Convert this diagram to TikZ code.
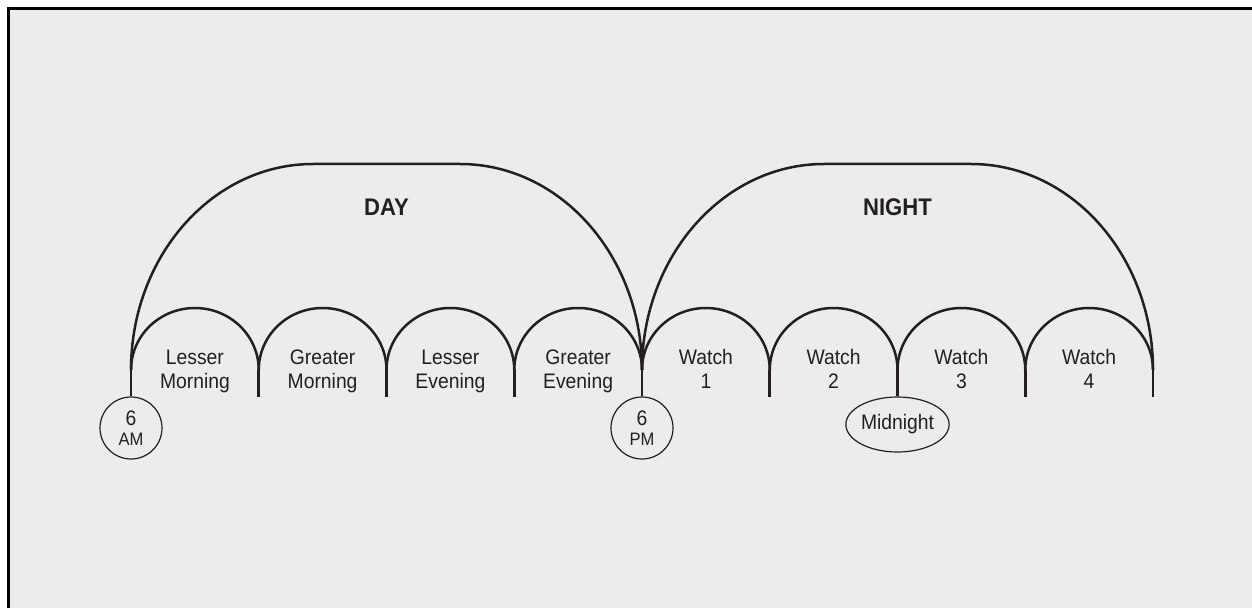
\documentclass[tikz,border=0pt]{standalone}
\usepackage{fontspec}
\setmainfont{Liberation Sans}[FakeStretch=0.92]
\usetikzlibrary{shapes.geometric}
\definecolor{paper}{HTML}{ECECEC}
\definecolor{ink}{HTML}{231F20}
\tikzset{
  arcline/.style={draw=ink, line width=2.5pt},
  stemline/.style={draw=ink, line width=2.6pt},
  period/.style={align=center, text=ink, font=\fontsize{21}{23.5}\selectfont},
  half/.style={text=ink, font=\bfseries\fontsize{24}{26}\selectfont},
  clock/.style={circle, draw=ink, line width=1.2pt, minimum size=62pt, inner sep=0pt,
    align=center, text=ink, font=\fontsize{21}{20}\selectfont},
  marker/.style={ellipse, draw=ink, line width=1.2pt, minimum width=96pt, minimum height=55pt,
    inner sep=0pt, text=ink, font=\fontsize{21}{23}\selectfont},
}
\begin{document}
\begin{tikzpicture}[x=1pt,y=1pt]
\useasboundingbox (0,0) rectangle (1252,608);
% frame and paper
\fill[white] (0,0) rectangle (1252,608);
\fill[paper] (8,0) rectangle (1252,599);
\draw[black, line width=3pt] (8,0) -- (8,599) -- (1252,599);

% boundaries between the eight periods
\foreach \i in {0,...,8} {
  \pgfmathsetmacro{\bx}{131+127.75*\i}
  \coordinate (b\i) at (\bx,238);
  \coordinate (s\i) at (\bx,211);
}

% day and night
\draw[arcline] (b0) arc[start angle=180, end angle=90, x radius=182, y radius=206]
  -- ++(147,0) arc[start angle=90, end angle=0, x radius=182, y radius=206];
\draw[arcline] (b4) arc[start angle=180, end angle=90, x radius=182, y radius=206]
  -- ++(147,0) arc[start angle=90, end angle=0, x radius=182, y radius=206];
\node[half] (day) at (386.5,401) {DAY};
\node[half] (night) at (897.5,401) {NIGHT};

% the eight periods
\foreach \i in {0,...,7} {
  \draw[arcline] (b\i) arc[start angle=180, end angle=0, x radius=63.875, y radius=62];
}
\node[period] (p1) at (194.9,236) {\strut Lesser\\\strut Morning};
\node[period] (p2) at (322.6,236) {\strut Greater\\\strut Morning};
\node[period] (p3) at (450.4,236) {\strut Lesser\\\strut Evening};
\node[period] (p4) at (578.1,236) {\strut Greater\\\strut Evening};
\node[period] (p5) at (705.9,236) {\strut Watch\\\strut 1};
\node[period] (p6) at (833.6,236) {\strut Watch\\\strut 2};
\node[period] (p7) at (961.4,236) {\strut Watch\\\strut 3};
\node[period] (p8) at (1089.1,236) {\strut Watch\\\strut 4};

% hour markers
\node[clock] (am) at (131,180) {6\\{\fontsize{18}{20}\selectfont AM}};
\node[clock] (pm) at (642,180) {6\\{\fontsize{18}{20}\selectfont PM}};
\node[marker] (mid) at (897.5,183.5) {Midnight};

% stems
\draw[stemline] (b0) -- (am.north);
\draw[stemline] (b4) -- (pm.north);
\draw[stemline] (b6) -- (mid.north);
\foreach \i in {1,2,3,5,7,8} {
  \draw[stemline] (b\i) -- (s\i);
}
\end{tikzpicture}
\end{document}
